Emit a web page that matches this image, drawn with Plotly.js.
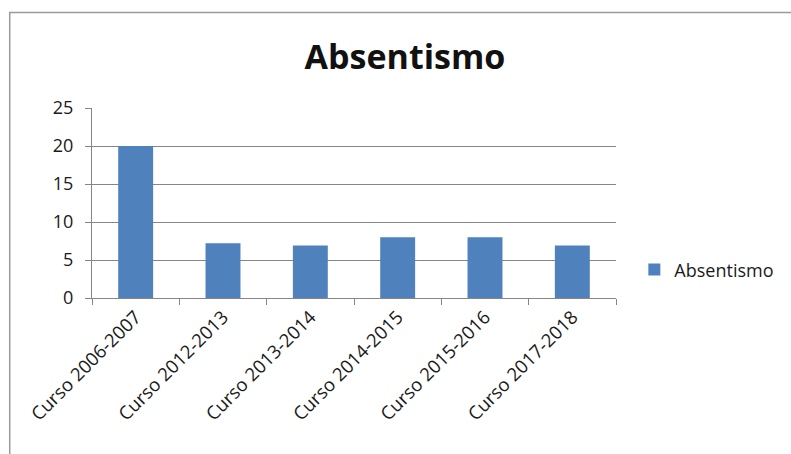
<!DOCTYPE html>
<html>
<head>
<meta charset="utf-8">
<script src="https://cdn.plot.ly/plotly-3.0.1.min.js"></script>
<style>
html,body{margin:0;padding:0;background:#fff;}
#chart{width:791px;height:454px;}
</style>
</head>
<body>
<div id="chart"></div>
<script>
var categories = ["Curso 2006-2007","Curso 2012-2013","Curso 2013-2014","Curso 2014-2015","Curso 2015-2016","Curso 2017-2018"];
var absentismo = [20, 7.2, 6.9, 8, 8, 6.9];
var seriesName = "Absentismo";
var yTicks = [0, 5, 10, 15, 20, 25];

var trace = {
  type: "bar",
  x: categories,
  y: absentismo,
  name: seriesName,
  marker: {color: "#4F81BD"},
  showlegend: true
};

var layout = {
  width: 791, height: 454,
  margin: {l: 92, r: 175, t: 108, b: 156, pad: 0},
  paper_bgcolor: "#fff", plot_bgcolor: "#fff",
  font: {family: "Open Sans, sans-serif", size: 17, color: "#1a1a1a"},
  title: {text: "<b>Absentismo</b>", font: {family: "Open Sans, sans-serif", size: 34, color: "#111"},
          x: 0.512, xanchor: "center", y: 0.875, yanchor: "middle"},
  bargap: 0.6,
  showlegend: true,
  legend: {x: 1.035, xanchor: "left", y: 0.148, yanchor: "middle", font: {size: 18, color: "#1a1a1a"},
           itemwidth: 30, bgcolor: "rgba(0,0,0,0)"},
  xaxis: {
    type: "category",
    tickangle: -45,
    showline: true, linecolor: "#868686", linewidth: 1,
    ticks: "outside", tickson: "boundaries", ticklen: 6, tickcolor: "#868686",
    showgrid: false, zeroline: false,
    tickfont: {size: 18.5, color: "#1a1a1a"}
  },
  yaxis: {
    range: [0, 25],
    tickvals: yTicks,
    ticks: "outside", ticklen: 6, tickcolor: "#868686",
    ticklabelstandoff: 8,
    showline: true, linecolor: "#868686", linewidth: 1,
    showgrid: true, gridcolor: "#868686", gridwidth: 1,
    zeroline: false,
    tickfont: {size: 18, color: "#1a1a1a"}
  },
  shapes: [{
    type: "rect", xref: "paper", yref: "paper",
    x0: -0.157, x1: 1.5, y0: -1.0, y1: 1.502,
    line: {color: "#9a9a9a", width: 1.5}, fillcolor: "rgba(0,0,0,0)", layer: "below"
  }]
};

Plotly.newPlot("chart", [trace], layout, {displayModeBar: false, staticPlot: true});
</script>
</body>
</html>
